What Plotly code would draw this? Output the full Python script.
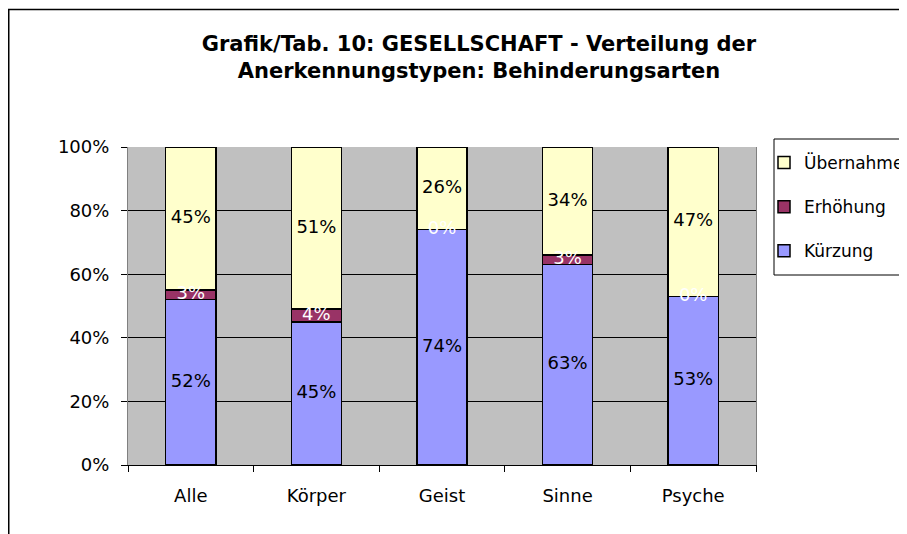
import plotly.graph_objects as go

categories = ["Alle", "Körper", "Geist", "Sinne", "Psyche"]
kuerzung = [52, 45, 74, 63, 53]
erhoehung = [3, 4, 0, 3, 0]
uebernahme = [45, 51, 26, 34, 47]
y_ticks = [0, 20, 40, 60, 80, 100]
y_tick_labels = ["0%", "20%", "40%", "60%", "80%", "100%"]
title_text = "Grafik/Tab. 10: GESELLSCHAFT - Verteilung der<br>Anerkennungstypen: Behinderungsarten"

series = [
    ("Kürzung", kuerzung, "#9999FF", "black", 3),
    ("Erhöhung", erhoehung, "#993366", "white", 2),
    ("Übernahme", uebernahme, "#FFFFCC", "black", 1),
]

# page is shown with an 8px body margin; work in page pixels and convert
OFF = 8
W, H = 907 - OFF, 534 - OFF
L = 128 - OFF
T = 147 - OFF
R = W - (756 - OFF)
B = H - (465 - OFF)
PW, PH = W - L - R, H - T - B


def px_x(p):
    return (p - OFF - L) / PW


def px_y(p):
    return (H - B - (p - OFF)) / PH


FONT = "DejaVu Sans"
fig = go.Figure()

base = [0] * len(categories)
for name, vals, color, tcol, rank in series:
    fig.add_trace(go.Bar(
        x=categories, y=vals, name=name, legendgroup=name, legendrank=rank,
        marker=dict(color=color, line=dict(color="black", width=1.5)),
        width=0.4, hoverinfo="skip",
    ))
    mids = [b + v / 2 for b, v in zip(base, vals)]
    fig.add_trace(go.Scatter(
        x=categories, y=mids, mode="text",
        text=[f"{v}%" for v in vals],
        textfont=dict(family=FONT, size=18, color=tcol),
        textposition="middle center", showlegend=False,
        hoverinfo="skip", cliponaxis=False,
    ))
    base = [b + v for b, v in zip(base, vals)]

fig.update_layout(
    width=W, height=H,
    margin=dict(l=L, r=R, t=T, b=B, autoexpand=False),
    barmode="stack",
    paper_bgcolor="white",
    plot_bgcolor="#C0C0C0",
    font=dict(family=FONT, size=18, color="black"),
    title=dict(
        text=title_text, x=(479 - OFF) / W, xref="container",
        xanchor="center", y=1 - 43 / H, yanchor="middle",
        font=dict(family=FONT, size=21, color="black", weight="bold"),
    ),
    showlegend=True,
    legend=dict(
        x=px_x(764), xanchor="left", y=px_y(145), yanchor="top",
        bgcolor="rgba(0,0,0,0)", borderwidth=0,
        traceorder="grouped", tracegroupgap=19,
        font=dict(family=FONT, size=17, color="black"),
    ),
    xaxis=dict(
        type="category", tickson="boundaries", ticks="outside", ticklen=6,
        tickcolor="black", showline=True, linecolor="black", linewidth=1,
        showgrid=False, ticklabelstandoff=14,
        tickfont=dict(family=FONT, size=18, color="black"),
    ),
    yaxis=dict(
        range=[0, 100], tickvals=y_ticks, ticktext=y_tick_labels,
        ticks="outside", ticklen=6, tickcolor="black",
        showgrid=True, gridcolor="black", gridwidth=1,
        showline=True, linecolor="#808080", linewidth=1, mirror=True,
        zeroline=False, ticklabelstandoff=8,
        tickfont=dict(family=FONT, size=18, color="black"),
    ),
    shapes=[
        dict(type="rect", xref="paper", yref="paper",
             x0=px_x(8.75), x1=px_x(960), y0=px_y(9.5), y1=px_y(600),
             line=dict(color="black", width=1.5), fillcolor="rgba(0,0,0,0)",
             layer="below"),
        dict(type="rect", xref="paper", yref="paper",
             x0=px_x(774), x1=px_x(960), y0=px_y(139), y1=px_y(275),
             line=dict(color="black", width=1), fillcolor="white",
             layer="below"),
    ],
)

fig.write_html("out.html")
